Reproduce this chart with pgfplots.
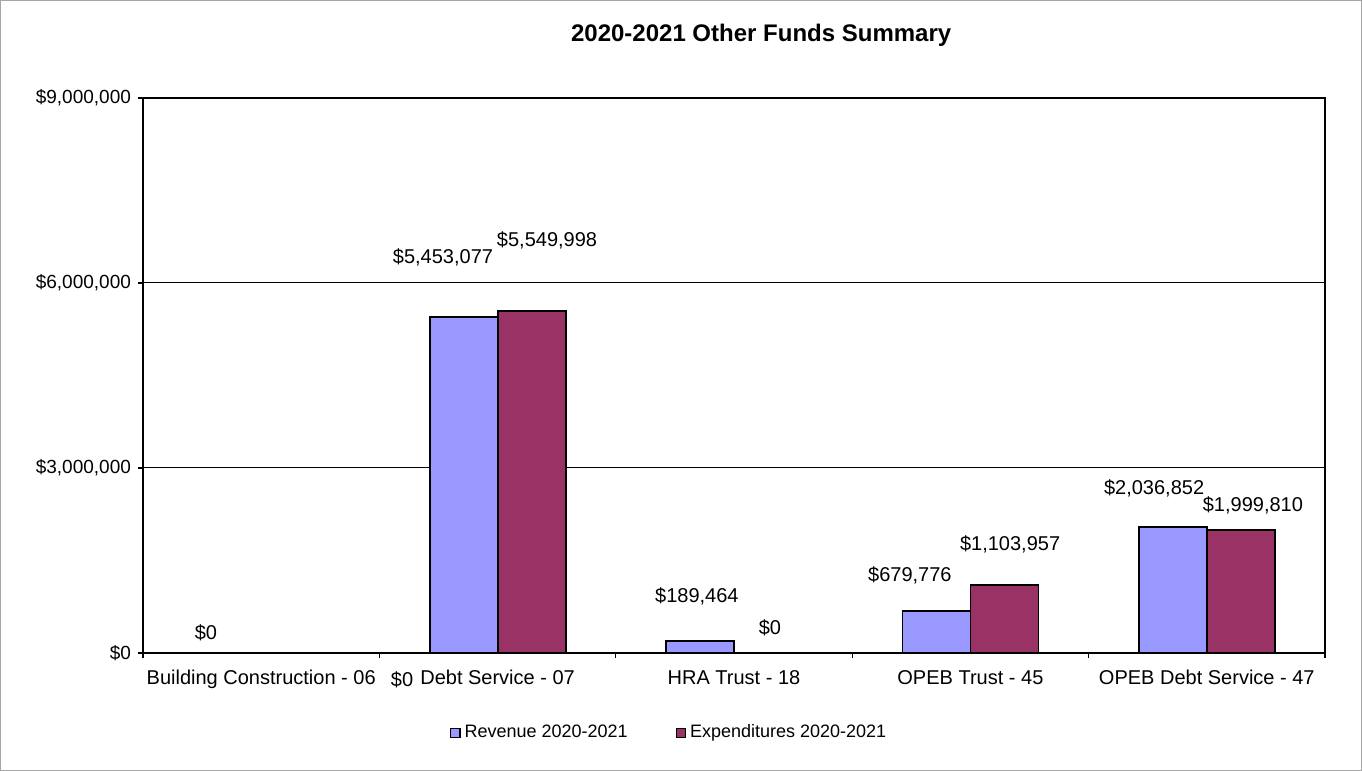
\documentclass[border=0pt]{standalone}
\usepackage{pgfplots}
\pgfplotsset{compat=1.18}
\usepackage{fontspec}
\setmainfont{Liberation Sans}

\definecolor{revcol}{HTML}{9999FF}
\definecolor{expcol}{HTML}{993366}

\begin{document}
\begin{tikzpicture}
\begin{axis}[
    name=ax,
    width=591pt, height=277.5pt,
    scale only axis,
    ybar=0pt, bar width=34pt,
    xmin=-0.5, xmax=4.5,
    ymin=0, ymax=9000000,
    scaled y ticks=false,
    xtick={-0.5,0.5,1.5,2.5,3.5,4.5},
    x tick label as interval,
    xticklabels={Building Construction - 06, Debt Service - 07, HRA Trust - 18, OPEB Trust - 45, OPEB Debt Service - 47},
    ytick={0,3000000,6000000,9000000},
    yticklabels={\$0,{\$3,000,000},{\$6,000,000},{\$9,000,000}},
    xtick pos=bottom, ytick pos=left,
    tick align=outside, major tick length=2.5pt,
    tick style={black, line width=0.6pt},
    x tick label style={font=\fontsize{10}{12}\selectfont, yshift=-2.5pt},
    y tick label style={font=\fontsize{9.5}{11}\selectfont},
    ymajorgrids, grid style={black, line width=0.5pt},
    axis line style={black, line width=1pt},
    clip=false,
    title={\bfseries 2020-2021 Other Funds Summary},
    title style={at={(0.523,1.092)}, anchor=center, font=\fontsize{12}{14}\selectfont},
    legend style={at={(0.446,-0.144)}, anchor=center, draw=none,
        font=\fontsize{9}{11}\selectfont, legend columns=2,
        /tikz/every even column/.append style={column sep=22pt}},
    legend image code/.code={\draw[#1, draw=black, line width=0.6pt] (0pt,-2.3pt) rectangle (4.6pt,2.3pt);},
]
\addplot[fill=revcol, draw=black, line width=0.9pt] coordinates {
    (0,0) (1,5453077) (2,189464) (3,679776) (4,2036852)};
\addplot[fill=expcol, draw=black, line width=0.9pt] coordinates {
    (0,0) (1,5549998) (2,0) (3,1103957) (4,1999810)};
\legend{Revenue 2020-2021, Expenditures 2020-2021}

\begin{scope}[every node/.style={font=\fontsize{10}{12}\selectfont}]
\node at (axis cs:-0.234,324000) {\$0};
\node at (axis cs:0.596,-438000) {\$0};
\node at (axis cs:0.769,6422000) {\$5,453,077};
\node at (axis cs:1.209,6697000) {\$5,549,998};
\node at (axis cs:1.843,924000) {\$189,464};
\node at (axis cs:2.152,405000) {\$0};
\node at (axis cs:2.744,1265000) {\$679,776};
\node at (axis cs:3.168,1768000) {\$1,103,957};
\node at (axis cs:3.777,2676000) {\$2,036,852};
\node at (axis cs:4.195,2400000) {\$1,999,810};
\end{scope}
\end{axis}
\draw[gray!70, line width=0.6pt] ([shift={(-71.2pt,-58.7pt)}]ax.south west) rectangle ([shift={(18.2pt,48.7pt)}]ax.north east);
\end{tikzpicture}
\end{document}
